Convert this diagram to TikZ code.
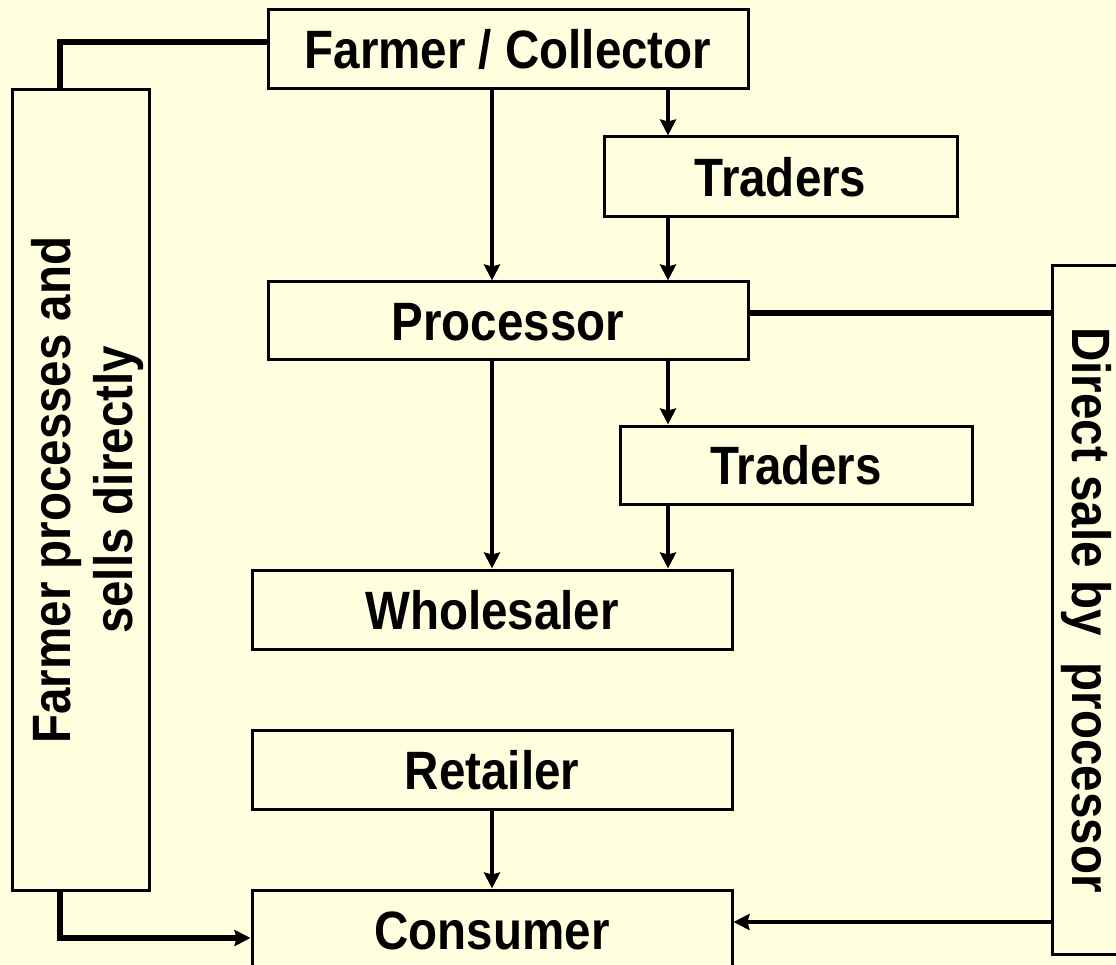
\documentclass[tikz,border=0pt]{standalone}
\usepackage{fontspec}
\newfontfamily\diafont{Liberation Sans}[FakeStretch=0.88,BoldFeatures={FakeStretch=0.88}]
\usetikzlibrary{arrows.meta}
\definecolor{bgyellow}{HTML}{FFFFE0}
\begin{document}
\begin{tikzpicture}[x=1pt,y=-1pt,
  hbox/.style={draw=black,line width=3pt,fill=bgyellow,inner sep=0pt,
    font=\diafont\bfseries\fontsize{54}{62}\selectfont,
    text height=39pt,text depth=0pt},
  vbox/.style={draw=black,line width=3pt,fill=bgyellow,inner sep=0pt,
    font=\diafont\bfseries\fontsize{54}{62}\selectfont},
  arr/.style={line width=4.8pt,-{Stealth[length=16pt,width=16pt,inset=2pt]}},
  link/.style={line width=5.5pt,line join=miter}]
\useasboundingbox (0,0) rectangle (1116,965);
\fill[bgyellow] (0,0) rectangle (1116,965);
\clip (0,0) rectangle (1116,965);
% nodes
\node[hbox,minimum width=480pt,minimum height=79pt] (farmer) at (508,49.5) {Farmer / Collector};
\node[hbox,minimum width=353pt,minimum height=80pt] (traders1) at (780.5,177) {Traders};
\node[hbox,minimum width=480pt,minimum height=78pt] (processor) at (508,321) {Processor};
\node[hbox,minimum width=352pt,minimum height=78pt] (traders2) at (796,465) {Traders};
\node[hbox,minimum width=480pt,minimum height=79pt] (wholesaler) at (492,609.5) {Wholesaler};
\node[hbox,minimum width=480pt,minimum height=79pt] (retailer) at (492,769.5) {Retailer};
\node[hbox,minimum width=480pt,minimum height=80pt] (consumer) at (492,930) {Consumer};
\node[vbox,minimum width=137pt,minimum height=800pt] (selfsell) at (80.5,490)
  {\hspace*{9pt}\rotatebox{90}{\begin{tabular}{@{}c@{}}Farmer processes and\\[0pt]sells directly\end{tabular}}\hspace*{-9pt}};
\node[vbox,minimum width=68pt,minimum height=688pt] (direct) at (1086,610)
  {\rotatebox{-90}{Direct sale by\ \ processor}};
% helper coordinates
\coordinate (xa) at (492,0);
\coordinate (xb) at (668,0);
\coordinate (xl) at (60,0);
\coordinate (ytop) at (0,42);
\coordinate (ybot) at (0,938);
\coordinate (yproc) at (0,313);
\coordinate (ydir) at (0,922);
% connectors
\draw[arr] (farmer.south -| xa) -- (processor.north -| xa);
\draw[arr] (farmer.south -| xb) -- (traders1.north -| xb);
\draw[arr] (traders1.south -| xb) -- (processor.north -| xb);
\draw[arr] (processor.south -| xa) -- (wholesaler.north -| xa);
\draw[arr] (processor.south -| xb) -- (traders2.north -| xb);
\draw[arr] (traders2.south -| xb) -- (wholesaler.north -| xb);
\draw[arr] (retailer.south -| xa) -- (consumer.north -| xa);
\draw[link] (farmer.west |- ytop) -| (selfsell.north -| xl);
\draw[link,-{Stealth[length=16pt,width=16pt,inset=2pt]}] (selfsell.south -| xl) |- (consumer.west |- ybot);
\draw[link] (processor.east |- yproc) -- (direct.west |- yproc);
\draw[arr] (direct.west |- ydir) -- (consumer.east |- ydir);
\end{tikzpicture}
\end{document}
